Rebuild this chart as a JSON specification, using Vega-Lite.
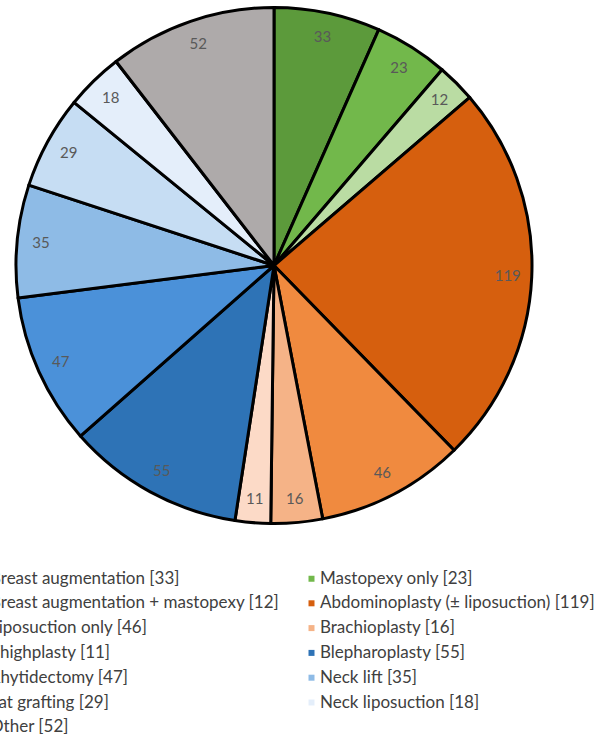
{
  "$schema": "https://vega.github.io/schema/vega-lite/v6.json",
  "width": 548,
  "height": 531,
  "autosize": "none",
  "padding": {"left": 0, "top": 0, "right": 63, "bottom": 204},
  "background": "white",
  "config": {"view": {"stroke": null}},
  "data": {
    "values": [
      {"order": 1, "label": "Breast augmentation [33]", "value": 33},
      {"order": 2, "label": "Mastopexy only [23]", "value": 23},
      {"order": 3, "label": "Breast augmentation + mastopexy [12]", "value": 12},
      {"order": 4, "label": "Abdominoplasty (± liposuction) [119]", "value": 119},
      {"order": 5, "label": "Liposuction only [46]", "value": 46},
      {"order": 6, "label": "Brachioplasty [16]", "value": 16},
      {"order": 7, "label": "Thighplasty [11]", "value": 11},
      {"order": 8, "label": "Blepharoplasty [55]", "value": 55},
      {"order": 9, "label": "Rhytidectomy [47]", "value": 47},
      {"order": 10, "label": "Neck lift [35]", "value": 35},
      {"order": 11, "label": "Fat grafting [29]", "value": 29},
      {"order": 12, "label": "Neck liposuction [18]", "value": 18},
      {"order": 13, "label": "Other [52]", "value": 52}
    ]
  },
  "encoding": {
    "theta": {"field": "value", "type": "quantitative", "stack": true},
    "order": {"field": "order", "type": "quantitative", "sort": "ascending"}
  },
  "layer": [
    {
      "mark": {"type": "arc", "radius": 258, "stroke": "black", "strokeWidth": 3, "strokeJoin": "round"},
      "encoding": {
        "color": {
          "field": "label",
          "type": "nominal",
          "sort": {"field": "order"},
          "scale": {
            "domain": [
              "Breast augmentation [33]", "Mastopexy only [23]", "Breast augmentation + mastopexy [12]",
              "Abdominoplasty (± liposuction) [119]", "Liposuction only [46]", "Brachioplasty [16]",
              "Thighplasty [11]", "Blepharoplasty [55]", "Rhytidectomy [47]", "Neck lift [35]",
              "Fat grafting [29]", "Neck liposuction [18]", "Other [52]"
            ],
            "range": [
              "#5c9a3b", "#72b84b", "#badca3", "#d65f0e", "#f08a3f", "#f5b387", "#fcdac7",
              "#2e73b6", "#4b91d9", "#8ebbe6", "#c6ddf3", "#e4eefa", "#aeaaaa"
            ]
          },
          "legend": {
            "orient": "none",
            "direction": "horizontal",
            "legendX": -27,
            "legendY": 570,
            "columns": 2,
            "columnPadding": 23,
            "rowPadding": 6.8,
            "title": null,
            "symbolType": "square",
            "symbolSize": 36,
            "symbolStrokeWidth": 0,
            "symbolOffset": 0,
            "labelOffset": 0,
            "labelFont": "Lato",
            "labelFontSize": 17,
            "labelColor": "#404040",
            "labelLimit": 400
          }
        }
      }
    },
    {
      "mark": {"type": "text", "radius": 234, "font": "Lato", "fontSize": 15, "fill": "#595959"},
      "encoding": {
        "text": {"field": "value", "type": "quantitative"}
      }
    }
  ]
}
